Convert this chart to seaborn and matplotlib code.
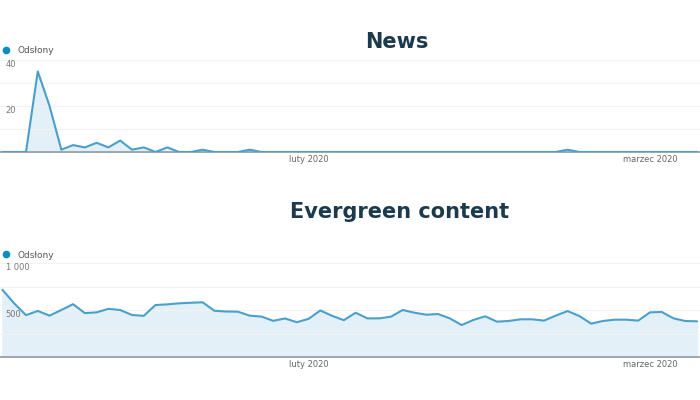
import matplotlib
matplotlib.use('Agg')
import matplotlib.pyplot as plt
import seaborn as sns
import pandas as pd
from matplotlib.lines import Line2D

# data (daily page views)
start_date = '2020-01-06'
news_views = [0, 0, 0, 35, 20, 1, 3, 2, 4, 2,
              5, 1, 2, 0, 2, 0, 0, 1, 0, 0,
              0, 1, 0, 0, 0, 0, 0, 0, 0, 0,
              0, 0, 0, 0, 0, 0, 0, 0, 0, 0,
              0, 0, 0, 0, 0, 0, 0, 0, 1, 0,
              0, 0, 0, 0, 0, 0, 0, 0, 0, 0]
evergreen_views = [715, 570, 445, 490, 440, 500, 562, 467, 475, 512,
                   500, 447, 438, 553, 560, 571, 577, 582, 492, 484,
                   482, 440, 430, 385, 410, 370, 406, 495, 438, 392,
                   471, 411, 411, 429, 500, 471, 450, 457, 411, 340,
                   394, 433, 376, 383, 401, 401, 387, 440, 489, 436,
                   355, 383, 397, 397, 387, 475, 479, 411, 383, 380]
titles = ['News', 'Evergreen content']
series_label = 'Odsłony'
month_ticks = ['2020-02-01', '2020-03-01']
month_labels = ['luty 2020', 'marzec 2020']
news_yticks = [0, 20, 40]
news_ylabels = ['', '20', '40']
ever_yticks = [0, 500, 1000]
ever_ylabels = ['', '500', '1 000']

dates = pd.date_range(start_date, periods=len(news_views), freq='D')
df = pd.DataFrame({'date': dates, 'news': news_views, 'evergreen': evergreen_views})

sns.set_style('white')
plt.rcParams['font.family'] = ['DejaVu Sans']

line_col = '#4aa0cc'
fill_col = '#e4f0f7'
dot_col = '#0a8bc6'
title_col = '#1b3a4e'

fig = plt.figure(figsize=(7, 4), dpi=100)
ax_top = fig.add_axes([0.0, 0.62, 1.0, 0.23])
ax_bot = fig.add_axes([0.0, 0.1075, 1.0, 0.235])

x_lo = dates[0] - pd.Timedelta(hours=5)
x_hi = dates[0] + pd.Timedelta(hours=24 * 59.25)

def draw(ax, col, ymax, minor, yticks, ylabels, title, title_y, title_x, leg_y):
    ax.set_axisbelow('line')
    ax.fill_between(df['date'], 0, df[col], color=fill_col, zorder=1)
    sns.lineplot(data=df, x='date', y=col, ax=ax, color=line_col,
                 linewidth=1.5, zorder=3, legend=False)
    ax.set_xlim(x_lo, x_hi)
    ax.set_ylim(0, ymax)
    ax.set_xlabel('')
    ax.set_ylabel('')
    ax.set_yticks(yticks, ylabels)
    ax.set_yticks(minor, minor=True)
    ax.grid(True, axis='y', which='both', color='#f2f2f2', linewidth=0.8)
    ax.tick_params(axis='y', which='both', length=0, pad=-4, labelsize=6, labelcolor='#777777')
    for lbl in ax.get_yticklabels():
        lbl.set_horizontalalignment('left')
        lbl.set_verticalalignment('top')
    ax.set_xticks(pd.to_datetime(month_ticks), month_labels)
    ax.tick_params(axis='x', length=0, pad=2, labelsize=6, labelcolor='#666666')
    for s in ['top', 'left', 'right']:
        ax.spines[s].set_visible(False)
    ax.spines['bottom'].set_color('#8e9ba4')
    ax.spines['bottom'].set_linewidth(1.2)
    ax.spines['bottom'].set_zorder(2)
    handle = Line2D([], [], marker='o', linestyle='', color=dot_col, markersize=4.5)
    ax.legend([handle], [series_label], loc='center left', bbox_to_anchor=(-0.004, leg_y),
              frameon=False, fontsize=6.5, labelcolor='#555555', handletextpad=0.2,
              borderpad=0, borderaxespad=0)
    fig.text(title_x, title_y, title, ha='center', va='center', fontsize=15,
             fontweight='bold', color=title_col)

draw(ax_top, 'news', 40, [10, 30], news_yticks, news_ylabels, titles[0], 1 - 42 / 400, 397 / 700, 1.105)
draw(ax_bot, 'evergreen', 1000, [250, 750], ever_yticks, ever_ylabels, titles[1], 1 - 212 / 400, 400 / 700, 1.085)

fig.savefig('out.png', dpi=100)
